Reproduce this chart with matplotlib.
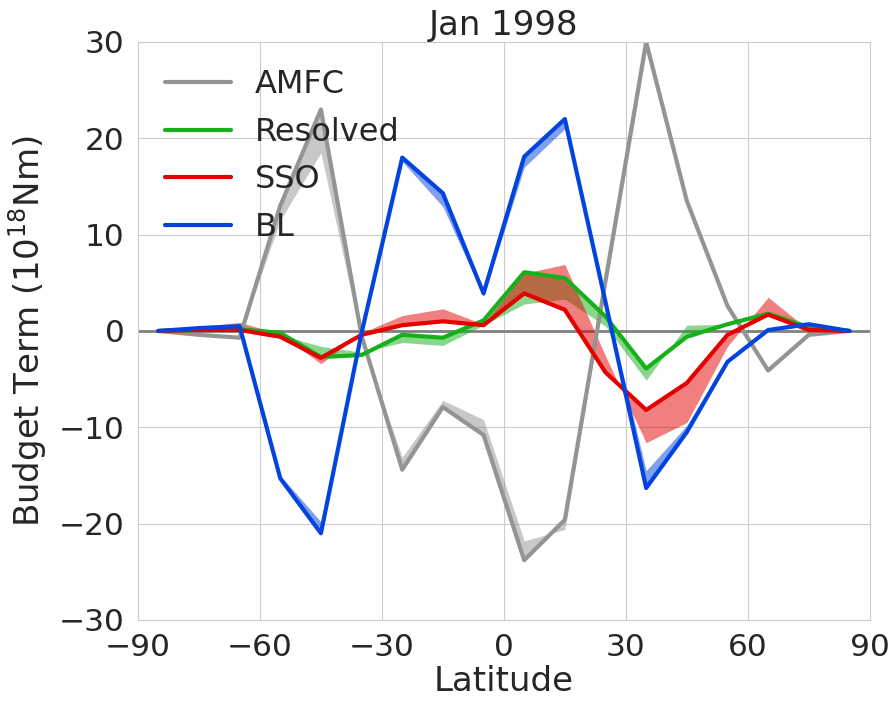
import numpy as np
import matplotlib
matplotlib.use("Agg")
import matplotlib.pyplot as plt
import seaborn as sns

# zonal-mean angular momentum budget terms, Jan 1998
lat = np.arange(-85, 90, 10)

amfc     = [0, -0.4, -0.7, 13.0, 23.0, -0.5, -14.4, -7.9, -10.8, -23.8, -19.6, 5.2, 30.0, 13.5, 2.6, -4.1, -0.4, 0]
amfc_alt = [0, -0.3, -0.5, 11.5, 18.5, -1.0, -13.1, -7.2, -9.2, -21.8, -20.6, 4.5, 29.0, 13.0, 2.4, -4.0, -0.4, 0]

resolved     = [0, 0.1, 0.2, -0.2, -2.7, -2.5, -0.4, -0.7, 1.1, 6.1, 5.5, 1.5, -3.9, -0.6, 0.7, 1.8, 0.4, 0]
resolved_alt = [0, 0.1, 0.2, -0.4, -1.6, -2.2, -1.2, -1.5, 0.6, 2.8, 3.3, 0.5, -5.1, 0.6, 0.7, 1.8, 0.3, 0]

sso     = [0, 0.1, 0.1, -0.6, -2.8, -0.4, 0.6, 1.0, 0.6, 3.9, 2.2, -4.3, -8.2, -5.4, -0.4, 1.7, 0.1, 0]
sso_alt = [0, 0.4, 0.9, -0.3, -3.4, -0.2, 1.6, 2.3, 0.7, 6.0, 6.9, -2.6, -11.6, -9.5, -1.6, 3.5, 0.1, 0]

bl     = [0, 0.3, 0.5, -15.3, -21.0, -0.2, 18.0, 14.3, 3.9, 18.1, 22.0, 3.0, -16.3, -10.5, -3.2, 0.1, 0.7, 0]
bl_alt = [0, 0.3, 0.5, -15.0, -19.8, -0.2, 17.6, 12.9, 3.6, 17.0, 21.0, 3.0, -14.5, -9.8, -3.0, 0.1, 0.7, 0]

sns.set_style("whitegrid")
plt.rcParams['font.family'] = ['DejaVu Sans']
plt.rcParams['font.size'] = 22.5

fig = plt.figure(figsize=(8.93, 7.01), dpi=100)
ax = fig.add_axes([0.1545, 0.1156, 0.8195, 0.8245])

terms = [
	("AMFC", amfc, amfc_alt, sns.xkcd_rgb["grey"]),
	("Resolved", resolved, resolved_alt, sns.xkcd_rgb["green"]),
	("SSO", sso, sso_alt, sns.xkcd_rgb["red"]),
	("BL", bl, bl_alt, sns.xkcd_rgb["blue"]),
]

ax.axhline(0, color="#808080", lw=2, zorder=1)
for name, val, alt, col in terms:
	ax.fill_between(lat, val, alt, color=col, alpha=0.5, lw=0)
	ax.plot(lat, val, color=col, lw=3, label=name)

ax.set_xlim(-90, 90)
ax.set_ylim(-30, 30)
ax.set_xticks(np.arange(-90, 91, 30))
ax.set_yticks(np.arange(-30, 31, 10))
ax.tick_params(labelsize=22.5, colors="#262626", pad=6)
ax.set_xlabel("Latitude", fontsize=24.5, color="#262626", labelpad=2)
ax.set_ylabel("Budget Term ($10^{18}$Nm)", fontsize=24.5, color="#262626", labelpad=7)
ax.set_title("Jan 1998", fontsize=24.5, color="#262626", pad=5)

leg = ax.legend(loc="upper left", frameon=False, fontsize=23, handlelength=2.05,
	labelspacing=0.52, borderaxespad=0.45, handletextpad=0.75)

fig.savefig("out.png", dpi=100)
